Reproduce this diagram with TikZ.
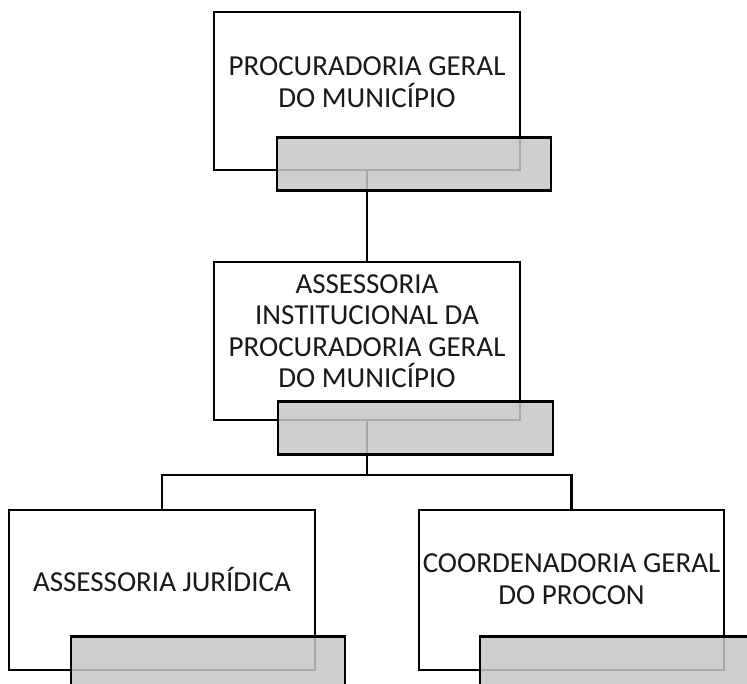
\documentclass[tikz,border=0pt]{standalone}
\usepackage{fontspec}
\setmainfont{Carlito}
\usetikzlibrary{positioning,calc}

\tikzset{
  unit box/.style={draw=black, line width=2.6pt, fill=white, minimum width=306pt, minimum height=158pt, inner sep=0pt},
  tag box/.style={draw=black, line width=2.6pt, fill=gray!44, fill opacity=0.85, minimum width=274pt, minimum height=53pt, inner sep=0pt, anchor=north west},
  unit text/.style={font=\fontsize{29}{31.5}\selectfont, align=center, text=black!90, inner sep=0pt},
  link/.style={line width=2.4pt}
}

\begin{document}
\begin{tikzpicture}[x=1pt,y=1pt]
\useasboundingbox (0,0) rectangle (747,684);

% units
\node[unit box] (pgm) at (367,593) {};
\node[unit text] (pgm text) at ([yshift=9]pgm.center) {PROCURADORIA GERAL\\DO MUNICÍPIO};

\node[unit box] (aipgm) at (367,343) {};
\node[unit text] (aipgm text) at ([yshift=10]aipgm.center) {ASSESSORIA\\INSTITUCIONAL DA\\PROCURADORIA GERAL\\DO MUNICÍPIO};

\node[unit box, minimum height=160pt] (aj) at (162,94) {};
\node[unit text] (aj text) at ([yshift=10]aj.center) {ASSESSORIA JURÍDICA};

\node[unit box, minimum width=305pt, minimum height=160pt] (cgp) at (571.5,94) {};
\node[unit text] (cgp text) at ([yshift=11]cgp.center) {COORDENADORIA GERAL\\DO PROCON};

% links
\coordinate (fork) at ($(aipgm.south)+(0,-54)$);
\draw[link] (pgm.south) -- (aipgm.north);
\draw[link] (aipgm.south) -- (fork) -| (aj.north);
\draw[link] (fork) -| (cgp.north);

% gray tags on top
\node[tag box] (pgm tag) at ([shift={(63,35)}]pgm.south west) {};
\node[tag box, minimum width=275pt] (aipgm tag) at ([shift={(64,21)}]aipgm.south west) {};
\node[tag box] (aj tag) at ([shift={(62,36)}]aj.south west) {};
\node[tag box] (cgp tag) at ([shift={(61,36)}]cgp.south west) {};
\end{tikzpicture}
\end{document}
